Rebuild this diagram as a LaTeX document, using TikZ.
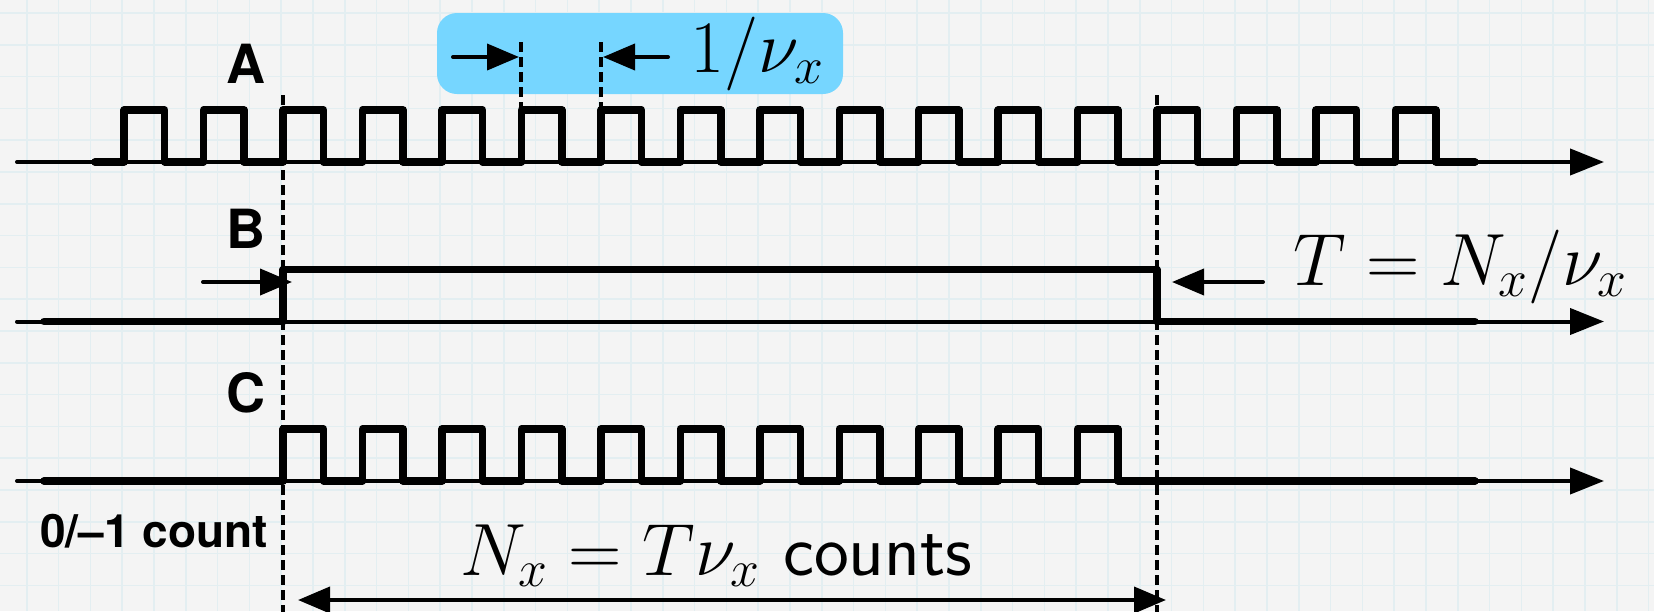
\RequirePackage{fix-cm}
\documentclass[tikz,border=0pt]{standalone}
\usepackage{fontspec}
\newfontfamily\helv{TeX Gyre Heros}
\usetikzlibrary{arrows.meta}
\definecolor{bg}{HTML}{F4F4F4}
\definecolor{gridc}{HTML}{E3EEF1}
\definecolor{sky}{HTML}{76D6FF}
\tikzset{
  wave/.style={line width=3.75pt, line join=round, line cap=round},
  axisline/.style={line width=2pt, line cap=round, -{Triangle[length=17pt,width=13pt]}},
  dimarrow/.style={line width=2pt, line cap=round, -{Triangle[length=16pt,width=13pt]}},
  dimboth/.style={line width=2pt, {Triangle[length=16pt,width=13pt]}-{Triangle[length=16pt,width=13pt]}},
  vdash/.style={line width=2pt, dash pattern=on 5pt off 2.5pt},
  lbl/.style={font=\helv\bfseries\fontsize{27}{30}\selectfont, inner sep=0pt, anchor=base west},
  mathlbl/.style={font=\fontsize{37}{40}\selectfont, inner sep=0pt, anchor=base west},
}
\begin{document}
\begin{tikzpicture}[x=0.5pt,y=-0.5pt]
\useasboundingbox (0,0) rectangle (1654,611);
\clip (0,0) rectangle (1654,611);
\fill[bg] (0,0) rectangle (1654,611);
\foreach \i in {0,...,52} \draw[gridc, line width=0.8pt] ({26.7+\i*31.8},0) -- ++(0,611);
\foreach \j in {0,...,19} \draw[gridc, line width=0.8pt] (0,{13+\j*31.8}) -- ++(1654,0);

% axes
\coordinate (a0) at (17,162);   \coordinate (a1) at (1604,162);
\coordinate (b0) at (17,321.5); \coordinate (b1) at (1604,321.5);
\coordinate (c0) at (17,481);   \coordinate (c1) at (1604,481);
\draw[axisline] (a0) -- (a1);
\draw[axisline] (b0) -- (b1);
\draw[axisline] (c0) -- (c1);

% waveform A
\draw[wave] (95,162) \foreach \k in {0,...,16} { -- ({124.2+\k*79.45},162) -- ++(0,-52) -- ++(40.5,0) -- ++(0,52) } -- (1475,162);
% waveform B
\draw[wave] (44,321.5) -- (283,321.5) -- (283,269.5) -- (1157,269.5) -- (1157,321.5) -- (1475,321.5);
% waveform C
\draw[wave] (44,481) \foreach \k in {2,...,12} { -- ({124.2+\k*79.45},481) -- ++(0,-52) -- ++(40.5,0) -- ++(0,52) } -- (1475,481);

% dashed verticals
\coordinate (d1t) at (283,95);  \coordinate (d1b) at (283,620);
\coordinate (d2t) at (1157,95); \coordinate (d2b) at (1157,620);
\draw[vdash] (d1t) -- (d1b);
\draw[vdash] (d2t) -- (d2b);

% blue box
\fill[sky, rounded corners=10pt] (437,13) rectangle (843,94);
\coordinate (p1t) at (521.4,42); \coordinate (p1b) at (521.4,108);
\coordinate (p2t) at (600.9,42); \coordinate (p2b) at (600.9,108);
\draw[vdash] (p1t) -- (p1b);
\draw[vdash] (p2t) -- (p2b);
\coordinate (bxl0) at (453,57); \coordinate (bxl1) at (519,57);
\coordinate (bxr0) at (668,57); \coordinate (bxr1) at (603,57);
\draw[dimarrow] (bxl0) -- (bxl1);
\draw[dimarrow] (bxr0) -- (bxr1);
\node[mathlbl] (per) at (690,72) {$1/\nu_x$};

% B arrows
\coordinate (bl0) at (203,282); \coordinate (bl1) at (292,282);
\coordinate (br0) at (1263,282); \coordinate (br1) at (1172,282);
\draw[dimarrow] (bl0) -- (bl1);
\draw[dimarrow] (br0) -- (br1);
\node[mathlbl] (Tl) at (1293,285) {$T=N_x/\nu_x$};

% N arrow
\coordinate (n0) at (298,600); \coordinate (n1) at (1166,600);
\draw[dimboth] (n0) -- (n1);
\node[mathlbl] (Nl) at (460,575) {$N_x=T\nu_x$ \textsf{counts}};

% labels
\node[lbl] (A) at (226,83) {A};
\node[lbl] (B) at (226,248) {B};
\node[lbl] (C) at (226,412) {C};
\node[lbl, font=\helv\bfseries\fontsize{23}{26}\selectfont] (cnt) at (40,547) {0/–1 count};
\end{tikzpicture}
\end{document}
